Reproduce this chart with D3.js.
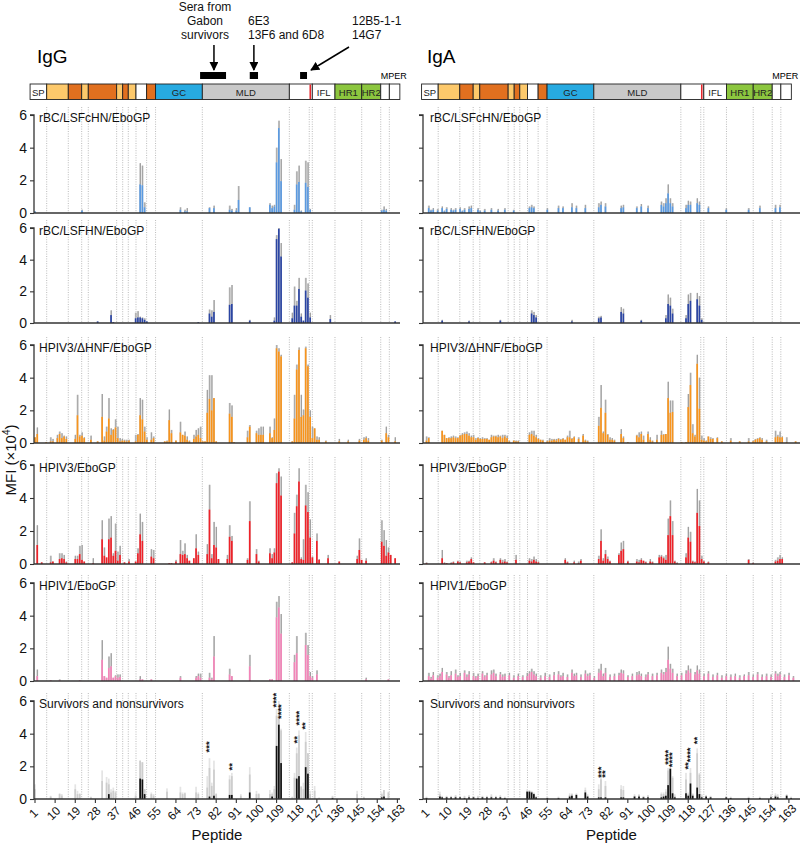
<!DOCTYPE html>
<html><head><meta charset="utf-8">
<script src="https://cdn.jsdelivr.net/npm/d3@7"></script>
<style>body{margin:0;background:#fff}svg{display:block;font-family:Arial,"Liberation Sans",Helvetica,sans-serif}</style>
</head><body><svg id="chart" width="800" height="847"></svg>
<script>
// ---------- DATA ----------
const peptideTicks = [1,10,19,28,37,46,55,64,73,82,91,100,109,118,127,136,145,154,163];
const yTicks = [0,2,4,6];
const isotypes = ["IgG","IgA"];
const panelTitles = ["rBC/LSFcHN/EboGP","rBC/LSFHN/EboGP","HPIV3/\u0394HNF/EboGP","HPIV3/EboGP","HPIV1/EboGP","Survivors and nonsurvivors"];
// GP domain map in peptide units: [type, from, to, label]
const domainSegments = [
  ["w",-1.2,6.23,"SP"],["y",6.23,15.88,""],["o",15.88,21.87,""],["y",21.87,24.82,""],["o",24.82,37.5,""],
  ["y",37.5,40.2,""],["o",40.2,42.7,""],["y",42.7,46.15,""],["w",46.15,50.9,""],["o",50.9,54.9,""],
  ["gc",54.9,75.8,"GC"],["mld",75.8,114.7,"MLD"],["w",114.7,124.96,""],["w",124.96,135.1,"IFL"],
  ["hr",135.1,147.05,"HR1"],["hr",147.05,155.55,"HR2"],["w",155.55,159.4,""],["w",159.4,164.1,""]
];
const fusionLoopMark = [123.7,124.4];
const mperStart = 155.55;
const domainBoundaries = [6.23,15.88,21.87,24.82,37.5,40.2,42.7,46.15,50.9,54.9,75.8,114.7,123.6,124.96,135.1,147.05,155.55,159.4];
const epitopeRanges = [[74.8,86.4],[97,100.7],[119.5,122.6]];

// bars: [peptide, mean, upper (mean+error)]
const igG_rBC_LSFcHN = [[1,0.1,0.1],[22,0.15,0.2],[48,1.75,3.05],[49,1.7,2.9],[50,0.35,0.65],[66,0.2,0.35],[68,0.1,0.2],[69,0.1,0.3],[79,0.3,0.35],[81,0.3,0.45],[88,0.2,0.45],[89,0.15,0.25],[91,0.15,0.3],[92,0.8,1.65],[97,0.35,0.35],[106,0.5,0.6],[107,0.3,0.45],[108,0.4,0.5],[109,3.1,4.0],[110,5.2,5.65],[111,1.95,3.3],[117,0.2,0.5],[118,1.75,2.55],[119,1.9,2.9],[120,0.1,0.15],[122,1.85,3.2],[123,1.6,3.1],[124,0.2,0.25],[156,0.15,0.2],[157,0.2,0.4],[158,0.15,0.25]];
const igG_rBC_LSFHN = [[29,0.1,0.1],[35,0.5,0.8],[36,0.05,0.05],[46,0.3,0.65],[47,0.35,0.75],[48,0.35,0.4],[49,0.3,0.35],[50,0.2,0.3],[51,0.1,0.1],[74,0.05,0.05],[79,0.6,0.85],[80,0.4,0.8],[81,0.7,1.45],[88,1.15,2.25],[89,1.2,2.4],[97,0.15,0.2],[108,0.15,0.35],[109,5.3,5.55],[110,5.95,6.0],[111,4.2,5.05],[116,0.3,0.65],[117,1.1,2.3],[118,1.1,1.4],[119,2.15,2.85],[120,0.4,0.6],[121,0.15,0.15],[122,2.05,2.85],[123,1.6,2.5],[124,0.35,0.65],[133,0.25,0.5],[162,0.1,0.1]];
const igG_HPIV3_dHNF = [[1,0.35,0.35],[2,0.55,0.95],[6,0.05,0.05],[8,0.1,0.35],[9,0.1,0.25],[11,0.3,0.5],[12,0.55,0.7],[13,0.3,0.6],[14,0.4,0.45],[15,0.25,0.4],[19,0.25,0.5],[20,1.7,2.95],[21,0.4,0.5],[22,0.45,0.65],[23,0.3,0.35],[26,0.2,0.45],[29,0.1,0.1],[31,1.6,3.0],[32,0.15,0.4],[33,0.7,1.0],[34,1.5,2.75],[35,0.5,0.9],[36,0.8,0.85],[37,0.95,1.45],[38,0.3,1.0],[39,0.1,0.3],[40,0.15,0.25],[41,0.15,0.2],[42,0.1,0.2],[43,0.15,0.2],[46,0.1,0.5],[47,0.5,0.55],[48,1.7,2.75],[49,1.45,2.65],[50,0.7,1.0],[51,0.2,0.35],[53,0.2,0.65],[54,0.3,0.4],[59,0.1,0.1],[60,0.1,0.15],[61,1.4,2.05],[62,0.6,0.8],[64,0.15,0.15],[66,0.65,1.3],[67,0.5,0.5],[68,0.45,0.7],[69,0.2,0.4],[70,0.1,0.15],[72,0.25,0.5],[73,0.4,0.8],[74,0.5,0.9],[75,0.3,1.0],[76,0.1,0.1],[77,0.1,0.1],[78,1.85,3.25],[79,2.7,4.15],[80,2.0,4.15],[81,2.75,2.75],[82,0.1,0.1],[88,1.8,2.45],[89,1.6,2.3],[90,0.05,0.05],[96,0.35,0.75],[97,1.0,1.1],[100,0.6,0.75],[101,0.5,0.9],[102,0.5,1.0],[103,0.5,1.0],[106,0.6,1.0],[107,0.3,0.35],[108,0.8,1.5],[109,5.8,6.0],[110,5.6,5.8],[111,5.3,5.4],[116,0.1,0.1],[117,1.5,2.95],[118,4.5,4.8],[119,5.7,5.85],[120,1.6,2.95],[121,1.7,2.05],[122,5.8,5.9],[123,4.7,4.8],[124,1.6,2.0],[125,0.3,1.0],[126,0.9,0.9],[127,0.2,0.4],[128,0.2,0.35],[131,0.1,0.15],[137,0.1,0.25],[141,0.1,0.2],[146,0.15,0.25],[148,0.2,0.35],[149,0.3,0.4],[150,0.15,0.3],[156,0.15,0.2],[158,0.6,1.0],[159,0.35,0.5],[162,0.1,0.35]];
const igG_HPIV3 = [[2,1.15,2.35],[4,0.1,0.1],[8,0.1,0.5],[9,0.15,0.15],[12,0.3,0.65],[13,0.35,0.65],[14,0.3,0.55],[15,0.1,0.15],[19,0.3,0.5],[20,0.3,0.5],[21,0.6,1.1],[22,0.25,1.15],[23,0.15,0.15],[27,0.05,0.35],[31,1.5,2.65],[32,0.5,1.0],[33,0.4,0.4],[34,1.5,2.75],[35,1.6,2.9],[36,0.5,0.65],[37,0.8,2.45],[38,0.2,0.75],[39,0.55,1.1],[41,0.1,0.1],[43,0.15,0.3],[46,0.15,0.15],[47,0.65,0.95],[48,1.8,3.05],[49,1.4,2.55],[53,0.45,0.9],[54,0.35,0.85],[61,0.05,0.05],[62,0.05,0.05],[64,0.15,0.25],[66,0.6,1.45],[67,0.55,0.8],[68,0.6,1.25],[69,0.35,0.55],[70,0.2,0.2],[72,0.35,0.35],[73,0.95,1.8],[74,0.55,0.75],[78,0.6,1.2],[79,3.3,4.8],[80,0.35,0.6],[81,1.15,2.55],[82,1.0,2.25],[83,0.3,0.3],[87,0.3,0.55],[88,1.65,2.35],[89,1.4,1.7],[96,0.25,0.35],[97,2.6,3.8],[100,0.6,0.9],[101,0.15,0.2],[106,0.65,0.95],[107,0.35,0.6],[108,0.7,0.95],[109,4.9,5.5],[110,5.6,5.8],[111,4.15,5.3],[116,0.1,0.1],[117,1.85,3.1],[118,3.5,4.2],[119,5.0,5.8],[120,0.3,0.4],[121,0.25,1.5],[122,3.55,4.8],[123,3.15,4.35],[124,1.6,2.7],[125,0.4,0.45],[127,1.4,1.85],[128,0.25,0.3],[132,0.35,0.55],[137,0.15,0.15],[145,0.3,0.5],[146,0.85,1.55],[147,0.25,0.25],[149,0.2,0.35],[156,1.35,2.65],[157,1.1,2.05],[158,0.5,1.45],[159,0.7,1.0],[160,0.55,0.55],[162,0.35,0.35]];
const igG_HPIV1 = [[2,0.3,0.7],[8,0.05,0.05],[12,0.05,0.1],[21,0.05,0.05],[31,1.3,2.5],[32,0.3,0.3],[33,0.2,0.2],[34,0.8,1.5],[35,0.9,1.7],[36,0.2,0.2],[37,0.3,0.35],[38,0.2,0.4],[39,0.25,0.4],[48,0.1,0.3],[49,0.1,0.1],[53,0.1,0.1],[66,0.2,0.3],[73,0.2,0.3],[74,0.3,0.45],[75,0.2,0.45],[79,0.2,0.5],[80,0.1,0.2],[81,1.5,2.75],[88,0.4,0.75],[89,0.3,0.3],[97,0.9,1.6],[106,0.1,0.1],[107,0.1,0.1],[109,3.9,4.85],[110,4.5,5.2],[111,2.9,4.1],[117,1.15,1.6],[118,1.7,2.75],[122,2.2,2.95],[123,1.6,2.2],[124,0.3,0.55],[125,0.2,0.3],[127,0.4,0.65],[149,0.1,0.2],[159,0.1,0.1]];
// survivors panel: [peptide, survivors (black), nonsurvivors (grey), nonsurvivors upper]
const igG_survivors = [[1,0,0.6,0.9],[8,0,0.15,0.2],[12,0,0.3,0.35],[13,0,0.2,0.3],[19,0,0.6,0.9],[20,0,0.3,0.5],[21,0,0.3,0.35],[26,0,0.1,0.15],[31,0,1.1,1.75],[33,0,1.0,1.35],[34,0.3,0.9,1.25],[35,0,0.4,0.6],[36,0,0.5,0.7],[37,0,0.4,0.5],[46,0,0.2,0.4],[48,1.25,2.35,2.35],[49,1.2,2.25,2.25],[50,0.3,0.6,0.6],[53,0,0.3,0.4],[54,0,0.2,0.3],[60,0,0.45,0.65],[66,0,0.4,0.75],[67,0,0.3,0.4],[68,0,0.35,0.4],[73,0,0.4,0.75],[74,0,0.3,0.4],[78,0,0.7,1.4],[79,0.15,1.9,2.5],[80,0,0.8,1.0],[81,0.2,1.8,2.35],[82,0,0.3,0.35],[88,0.25,1.2,1.45],[89,0.25,1.4,1.6],[93,0,0.2,0.3],[97,0.4,1.5,1.95],[100,0,0.3,0.5],[101,0,0.3,0.35],[106,0,0.3,0.55],[107,0.15,0.3,0.4],[108,0,0.6,0.8],[109,3.25,5.1,5.5],[110,4.55,5.6,6.0],[111,2.2,4.2,4.3],[116,0,0.1,0.15],[117,0,1.3,1.6],[118,1.25,2.8,3.15],[119,1.4,3.9,4.2],[120,0,0.75,0.8],[121,0,0.6,1.0],[122,1.95,3.5,4.1],[123,1.55,2.8,2.8],[124,0,0.3,0.5],[126,0,0.5,0.8],[128,0,0.05,0.1],[134,0.05,0.15,0.2],[145,0,0.3,0.5],[148,0,0.1,0.15],[156,0.1,0.3,0.4],[157,0.15,0.55,0.55],[159,0,0.4,0.45]];
const igG_stars = [[79,"***",2.85],[89,"**",1.75],[109,"****",5.6],[111,"****",4.9],[118,"**",3.4],[119,"****",4.5],[122,"**",4.25]];

const igA_rBC_LSFcHN = [[2,0.3,0.45],[3,0.15,0.2],[4,0.2,0.3],[6,0.15,0.25],[8,0.3,0.4],[9,0.1,0.15],[10,0.25,0.35],[12,0.2,0.3],[13,0.15,0.2],[14,0.2,0.3],[16,0.25,0.35],[17,0.1,0.15],[18,0.2,0.3],[20,0.25,0.4],[21,0.3,0.45],[24,0.2,0.3],[25,0.1,0.15],[27,0.15,0.25],[30,0.2,0.3],[33,0.15,0.25],[36,0.2,0.3],[40,0.15,0.2],[47,0.3,0.4],[48,0.35,0.5],[49,0.3,0.4],[55,0.2,0.3],[60,0.3,0.45],[62,0.3,0.4],[66,0.35,0.6],[68,0.3,0.45],[72,0.3,0.5],[78,0.35,0.6],[79,0.5,0.7],[81,0.4,0.6],[88,0.3,0.45],[89,0.35,0.5],[95,0.3,0.4],[97,0.4,0.55],[100,0.3,0.45],[106,0.5,0.7],[107,0.4,0.6],[108,0.6,0.9],[109,1.2,1.75],[110,0.6,0.9],[111,0.4,0.6],[117,0.3,0.5],[118,0.5,0.75],[119,0.5,0.7],[122,0.6,0.9],[123,0.5,0.7],[127,0.3,0.4],[135,0.2,0.3],[145,0.2,0.3],[150,0.3,0.45],[157,0.3,0.5],[159,0.35,0.5]];
const igA_rBC_LSFHN = [[8,0.15,0.2],[20,0.1,0.15],[34,0.15,0.2],[48,0.6,0.8],[49,0.5,0.7],[50,0.35,0.5],[66,0.1,0.2],[78,0.3,0.4],[79,0.35,0.45],[88,0.7,1.0],[89,0.6,0.9],[97,0.15,0.2],[108,0.3,0.5],[109,1.2,1.8],[110,1.1,1.6],[111,0.6,0.9],[117,0.3,0.5],[118,1.2,1.8],[119,1.4,1.9],[122,1.5,1.9],[123,1.1,1.7],[124,0.2,0.3]];
const igA_HPIV3_dHNF = [[1,0.15,0.4],[2,0.3,0.35],[8,0.75,0.75],[9,0.5,0.5],[10,0.3,0.3],[11,0.3,0.35],[12,0.3,0.4],[13,0.35,0.45],[14,0.3,0.4],[15,0.3,0.35],[16,0.45,0.5],[17,0.5,0.6],[18,0.55,0.65],[19,0.55,0.7],[20,0.45,0.6],[21,0.35,0.45],[22,0.35,0.5],[23,0.2,0.3],[24,0.3,0.35],[25,0.25,0.3],[26,0.25,0.35],[27,0.25,0.3],[28,0.25,0.3],[29,0.2,0.2],[30,0.35,0.5],[31,0.4,0.45],[32,0.4,0.45],[33,0.35,0.5],[34,0.4,0.45],[35,0.3,0.5],[36,0.4,0.5],[37,0.3,0.45],[38,0.1,0.15],[40,0.15,0.15],[41,0.1,0.15],[42,0.1,0.15],[47,0.5,0.65],[48,0.55,0.75],[49,0.45,0.75],[50,0.35,0.5],[51,0.25,0.3],[52,0.2,0.2],[53,0.15,0.2],[55,0.1,0.15],[56,0.15,0.3],[57,0.15,0.25],[58,0.2,0.25],[59,0.15,0.25],[60,0.25,0.3],[61,0.2,0.25],[62,0.25,0.3],[63,0.2,0.2],[64,0.35,0.45],[65,0.35,0.75],[66,0.25,0.3],[67,0.35,0.4],[69,0.25,0.35],[71,0.45,0.55],[72,0.15,0.2],[73,0.1,0.15],[78,1.05,1.6],[79,2.15,3.55],[80,0.6,0.7],[81,1.85,2.65],[82,0.5,0.55],[83,0.2,0.35],[84,0.2,0.3],[85,0.15,0.2],[88,0.55,0.85],[89,0.3,0.4],[91,0.05,0.05],[95,0.45,0.5],[96,0.35,0.65],[97,0.55,0.7],[98,0.2,0.45],[100,0.55,0.7],[101,0.2,0.35],[102,0.1,0.15],[104,0.2,0.5],[106,0.5,0.75],[107,0.5,0.55],[108,0.55,0.55],[109,2.75,3.75],[110,1.85,2.6],[111,1.9,2.6],[115,0.05,0.05],[117,0.05,0.05],[118,2.2,3.0],[119,3.55,4.3],[120,0.6,1.15],[121,0.4,0.5],[122,4.85,5.4],[123,2.1,4.0],[124,0.2,0.45],[125,0.15,0.3],[126,0.1,0.15],[127,0.4,0.4],[128,0.25,0.35],[129,0.25,0.3],[131,0.3,0.35],[133,0.1,0.1],[137,0.15,0.3],[141,0.1,0.1],[145,0.1,0.3],[147,0.1,0.15],[148,0.2,0.25],[149,0.25,0.3],[150,0.3,0.35],[151,0.2,0.3],[153,0.1,0.2],[157,0.35,0.75],[158,0.4,0.5],[159,0.35,0.7],[160,0.35,0.4],[162,0.05,0.35],[166,0.1,0.1]];
const igA_HPIV3 = [[1,0.05,0.1],[8,0.35,0.85],[9,0.05,0.1],[10,0.05,0.05],[12,0.05,0.1],[13,0.1,0.15],[15,0.15,0.2],[16,0.1,0.15],[19,0.1,0.2],[20,0.15,0.2],[21,0.3,0.4],[22,0.1,0.1],[27,0.1,0.1],[30,0.1,0.15],[31,0.2,0.35],[32,0.1,0.15],[34,0.25,0.35],[35,0.1,0.25],[36,0.15,0.3],[37,0.1,0.15],[41,0.25,0.55],[47,0.2,0.35],[48,0.15,0.3],[49,0.25,0.45],[50,0.15,0.3],[51,0.1,0.15],[63,0.25,0.35],[64,0.1,0.15],[67,0.1,0.2],[69,0.05,0.15],[70,0.2,0.3],[78,0.3,0.5],[79,1.4,2.1],[80,0.2,0.35],[81,0.6,0.85],[82,0.3,0.45],[83,0.15,0.2],[87,0.55,0.65],[88,0.8,1.3],[89,0.9,1.4],[91,0.15,0.2],[95,0.15,0.3],[96,0.1,0.25],[97,0.25,0.35],[98,0.2,0.2],[99,0.1,0.15],[101,0.15,0.3],[102,0.1,0.15],[105,0.4,0.55],[106,0.45,0.55],[107,0.35,0.45],[108,0.25,0.55],[109,1.75,2.75],[110,2.9,3.85],[111,1.75,2.6],[112,0.15,0.2],[113,0.05,0.1],[117,0.4,0.65],[118,1.6,2.25],[119,1.35,1.95],[120,0.15,0.2],[121,0.1,0.15],[122,3.1,4.55],[123,2.3,3.85],[124,0.3,0.5],[125,0.15,0.2],[127,0.1,0.15],[145,0.25,0.3],[147,0.05,0.1],[157,0.15,0.25],[158,0.2,0.4],[159,0.3,0.55],[160,0.3,0.4]];
const igA_HPIV1 = [[2,0.3,0.5],[3,0.15,0.25],[4,0.35,0.55],[6,0.2,0.35],[7,0.3,0.45],[8,0.55,0.8],[10,0.4,0.55],[11,0.2,0.3],[12,0.35,0.6],[14,0.45,0.7],[15,0.25,0.35],[16,0.3,0.5],[18,0.5,0.65],[19,0.25,0.4],[20,0.4,0.6],[22,0.3,0.5],[23,0.2,0.3],[24,0.3,0.45],[26,0.45,0.6],[27,0.25,0.35],[28,0.35,0.5],[30,0.4,0.65],[31,0.5,0.7],[32,0.3,0.45],[34,0.4,0.55],[35,0.25,0.4],[36,0.3,0.45],[38,0.35,0.5],[40,0.2,0.35],[42,0.3,0.45],[44,0.25,0.35],[46,0.3,0.5],[47,0.45,0.6],[48,0.55,0.75],[49,0.4,0.6],[50,0.3,0.45],[52,0.2,0.35],[54,0.3,0.5],[56,0.25,0.4],[58,0.35,0.55],[60,0.4,0.6],[61,0.25,0.35],[62,0.3,0.5],[64,0.25,0.4],[66,0.5,0.7],[67,0.3,0.45],[68,0.35,0.5],[70,0.25,0.4],[72,0.45,0.65],[73,0.3,0.45],[74,0.35,0.5],[76,0.2,0.3],[78,0.5,0.75],[79,0.65,1.05],[80,0.3,0.45],[81,0.5,0.8],[83,0.25,0.4],[85,0.3,0.45],[87,0.35,0.5],[88,0.5,0.7],[89,0.45,0.65],[91,0.25,0.35],[93,0.3,0.45],[95,0.35,0.55],[96,0.4,0.6],[97,0.3,0.45],[99,0.25,0.4],[100,0.4,0.55],[102,0.3,0.45],[104,0.35,0.5],[106,0.5,0.7],[107,0.4,0.55],[108,0.55,0.8],[109,1.3,2.1],[110,0.75,1.05],[111,0.5,0.75],[113,0.3,0.45],[115,0.35,0.5],[117,0.45,0.65],[118,0.65,0.95],[119,0.5,0.75],[121,0.4,0.55],[122,0.65,0.95],[123,0.45,0.7],[125,0.3,0.45],[127,0.45,0.6],[129,0.25,0.4],[131,0.35,0.5],[133,0.2,0.35],[135,0.3,0.45],[137,0.25,0.4],[139,0.3,0.45],[141,0.2,0.35],[143,0.3,0.4],[145,0.35,0.55],[147,0.25,0.4],[149,0.4,0.55],[151,0.25,0.4],[153,0.3,0.45],[155,0.25,0.4],[157,0.45,0.6],[158,0.3,0.45],[159,0.4,0.55],[161,0.25,0.4],[163,0.35,0.5],[165,0.2,0.3]];
const igA_survivors = [[1,0.05,0.1,0.15],[7,0.15,0.3,0.45],[8,0.1,0.15,0.2],[10,0.1,0.15,0.2],[12,0.1,0.15,0.2],[14,0.1,0.2,0.25],[16,0.1,0.15,0.2],[18,0.05,0.15,0.2],[20,0.1,0.2,0.25],[22,0.1,0.15,0.2],[24,0.05,0.15,0.2],[26,0.1,0.15,0.2],[28,0.1,0.15,0.2],[30,0.1,0.2,0.3],[32,0.1,0.15,0.2],[34,0.1,0.15,0.25],[36,0.05,0.1,0.15],[46,0.45,0.5,0.6],[47,0.45,0.5,0.55],[48,0.4,0.45,0.5],[49,0.3,0.35,0.4],[50,0.1,0.15,0.2],[55,0.05,0.1,0.15],[60,0.05,0.1,0.15],[65,0.15,0.25,0.35],[66,0.2,0.3,0.35],[68,0.25,0.3,0.35],[72,0.4,0.55,0.7],[73,0.15,0.2,0.3],[78,0.1,0.6,0.9],[79,0.1,1.2,1.5],[81,0.1,0.8,1.1],[88,0.1,0.6,0.85],[89,0.1,0.55,0.8],[94,0.15,0.2,0.3],[96,0.15,0.25,0.3],[98,0.1,0.15,0.2],[100,0.1,0.2,0.25],[106,0.1,0.3,0.4],[107,0.15,0.3,0.4],[108,0.2,0.45,0.6],[109,0.85,1.75,1.9],[110,1.85,1.9,2.0],[111,0.35,1.3,1.4],[112,0.1,0.2,0.3],[117,0.35,1.2,1.6],[118,0.2,0.3,0.4],[119,0.95,1.6,1.9],[120,0.2,0.3,0.35],[122,0.7,2.8,3.1],[123,0.3,1.5,1.6],[124,0.1,0.2,0.3],[126,0.15,0.2,0.25],[128,0.1,0.15,0.2],[135,0.1,0.15,0.2],[137,0.05,0.1,0.15],[145,0.05,0.1,0.15],[150,0.05,0.1,0.15],[155,0.1,0.2,0.3],[157,0.15,0.25,0.35],[158,0.1,0.2,0.3],[162,0.2,0.25,0.3],[164,0.05,0.1,0.15]];
const igA_stars = [[79,"***",1.3],[81,"**",1.3],[109,"****",2.1],[111,"****",1.95],[118,"**",1.8],[119,"****",2.25],[122,"**",3.35]];

// ---------- LAYOUT / STYLE ----------
const svg = d3.select("#chart");
const step = 2.237;
const cols = [
  {x0:35, axisX:34, xEnd:400, titleX:39,
   panels:[igG_rBC_LSFcHN, igG_rBC_LSFHN, igG_HPIV3_dHNF, igG_HPIV3, igG_HPIV1, igG_survivors], stars:igG_stars},
  {x0:426.5, axisX:423, xEnd:800, titleX:430,
   panels:[igA_rBC_LSFcHN, igA_rBC_LSFHN, igA_HPIV3_dHNF, igA_HPIV3, igA_HPIV1, igA_survivors], stars:igA_stars}
];
const rows = [{top:115,bottom:213},{top:228,bottom:323},{top:345,bottom:443},{top:465,bottom:564},{top:583,bottom:681},{top:701,bottom:799}];
const barColors = ["#5b9ae0","#2b45a3","#f7941d","#ee2229","#f384b8","#111"];
const segFill = {w:"#fff", y:"#fdc96b", o:"#e1701f", gc:"#27aae1", mld:"#c9c9c9", hr:"#8cc63f"};
const bw = 1.7;

cols.forEach((c, ci) => {
  const x = d3.scaleLinear().domain([1,163]).range([c.x0, c.x0 + 162*step]);
  const g = svg.append("g");

  g.append("text").attr("x", ci===0 ? 37 : 427).attr("y", 63).attr("font-size", 19).text(isotypes[ci]);

  // domain map
  const dm = g.append("g");
  dm.selectAll("rect.seg").data(domainSegments).join("rect").attr("class","seg")
    .attr("x", d => x(d[1])).attr("width", d => x(d[2]) - x(d[1]))
    .attr("y", 84).attr("height", 15.5)
    .attr("fill", d => segFill[d[0]]).attr("stroke", "#222").attr("stroke-width", 0.9);
  dm.append("rect").attr("x", x(fusionLoopMark[0])).attr("width", x(fusionLoopMark[1]) - x(fusionLoopMark[0]))
    .attr("y", 84.5).attr("height", 14.5).attr("fill", "#e8262b");
  dm.selectAll("text.seg").data(domainSegments.filter(d => d[3])).join("text").attr("class","seg")
    .attr("x", d => (x(d[1]) + x(d[2]))/2).attr("y", 95.5).attr("text-anchor","middle")
    .attr("font-size", 9.5).attr("fill","#222").text(d => d[3]);
  dm.append("text").attr("x", x(mperStart)).attr("y", 78.5).attr("font-size", 9).text("MPER");

  rows.forEach((r, ri) => {
    const y = d3.scaleLinear().domain([0,6]).range([r.bottom, r.top]);
    const pg = g.append("g");
    pg.selectAll("line.dot").data(domainBoundaries).join("line").attr("class","dot")
      .attr("x1", d => x(d)).attr("x2", d => x(d)).attr("y1", r.top - 8).attr("y2", r.bottom)
      .attr("stroke", "#9d9d9d").attr("stroke-width", 0.7).attr("stroke-dasharray", "1,1.4");

    const data = c.panels[ri];
    if (ri < 5) {
      pg.selectAll("rect.err").data(data).join("rect").attr("class","err")
        .attr("x", d => x(d[0]) - bw/2).attr("width", bw)
        .attr("y", d => y(d[2])).attr("height", d => Math.max(0, y(0) - y(d[2])))
        .attr("fill", "#c8c8c8");
      pg.selectAll("line.err").data(data.filter(d => d[2] > d[1])).join("line").attr("class","err")
        .attr("x1", d => x(d[0]) + 0.3).attr("x2", d => x(d[0]) + 0.3)
        .attr("y1", d => y(d[2])).attr("y2", d => y(d[1]))
        .attr("stroke", "#8e8e8e").attr("stroke-width", 0.7);
      pg.selectAll("rect.bar").data(data).join("rect").attr("class","bar")
        .attr("x", d => x(d[0]) - bw/2).attr("width", bw)
        .attr("y", d => y(d[1])).attr("height", d => y(0) - y(d[1]))
        .attr("fill", barColors[ri]);
    } else {
      pg.selectAll("rect.gt").data(data).join("rect").attr("class","gt")
        .attr("x", d => x(d[0]) - bw/2).attr("width", bw)
        .attr("y", d => y(d[3])).attr("height", d => y(0) - y(d[3]))
        .attr("fill", "#e4e4e4");
      pg.selectAll("rect.gm").data(data).join("rect").attr("class","gm")
        .attr("x", d => x(d[0]) - bw/2).attr("width", bw)
        .attr("y", d => y(d[2])).attr("height", d => y(0) - y(d[2]))
        .attr("fill", "#cdcdcd");
      pg.selectAll("rect.bk").data(data.filter(d => d[1] > 0)).join("rect").attr("class","bk")
        .attr("x", d => x(d[0]) - bw/2).attr("width", bw)
        .attr("y", d => y(d[1])).attr("height", d => y(0) - y(d[1]))
        .attr("fill", "#111");
      pg.selectAll("text.star").data(c.stars).join("text").attr("class","star")
        .attr("transform", d => `translate(${x(d[0]) + 2.8},${y(d[2])}) rotate(-90)`)
        .attr("font-size", 9.5).attr("font-weight","bold").attr("fill","#111").text(d => d[1]);
    }

    const yAxis = d3.axisLeft(y).tickValues(yTicks).tickSize(4).tickFormat(ci === 0 ? d3.format("d") : "");
    const ya = pg.append("g").attr("transform", `translate(${c.axisX},0)`).call(yAxis);
    ya.select(".domain").attr("stroke","#333").attr("stroke-width",1.3).attr("d", `M-4,${y(6)}H0V${y(0)}`);
    ya.selectAll(".tick line").attr("stroke","#333").attr("stroke-width",1.1);
    ya.selectAll(".tick text").attr("font-size", 14).attr("fill","#111").attr("x",-7).style("font-family","Arial,'Liberation Sans',sans-serif");

    pg.append("line").attr("x1", c.axisX).attr("x2", c.xEnd).attr("y1", y(0)).attr("y2", y(0))
      .attr("stroke", "#333").attr("stroke-width", 1.3);

    pg.append("text").attr("x", c.titleX).attr("y", r.top + 7).attr("font-size", 12).attr("fill","#111").text(panelTitles[ri]);

    if (ri === 5) {
      pg.selectAll("line.xt").data(peptideTicks).join("line").attr("class","xt")
        .attr("x1", d => x(d)).attr("x2", d => x(d)).attr("y1", y(0)).attr("y2", y(0) + 4)
        .attr("stroke","#333").attr("stroke-width",1.1);
      pg.selectAll("text.xt").data(peptideTicks).join("text").attr("class","xt")
        .attr("transform", d => `translate(${x(d) - 1},${y(0) + 15}) rotate(-45)`)
        .attr("text-anchor","middle").attr("dominant-baseline","middle")
        .attr("font-size", 12).attr("fill","#111").text(d => d);
      pg.append("text").attr("x", (c.axisX + c.xEnd)/2).attr("y", 840).attr("text-anchor","middle")
        .attr("font-size", 15).attr("fill","#111").text("Peptide");
    }
  });

  if (ci === 0) {
    const ann = g.append("g");
    ann.selectAll("rect.ep").data(epitopeRanges).join("rect").attr("class","ep")
      .attr("x", d => x(d[0])).attr("width", d => x(d[1]) - x(d[0])).attr("y", 72).attr("height", 7).attr("fill","#000");
  }
});

// annotations above IgG map
const defs = svg.append("defs");
defs.append("marker").attr("id","ah").attr("viewBox","0 0 10 10").attr("refX",9).attr("refY",5)
  .attr("markerWidth",6).attr("markerHeight",6).attr("orient","auto")
  .append("path").attr("d","M0,0L10,5L0,10z").attr("fill","#000");
const xL = d3.scaleLinear().domain([1,163]).range([35, 35 + 162*step]);
const arrowG = svg.append("g");
const epMid = epitopeRanges.map(d => (d[0] + d[1]) / 2);
arrowG.append("line").attr("x1", xL(81)).attr("x2", xL(81)).attr("y1", 45).attr("y2", 70)
  .attr("stroke","#000").attr("stroke-width",1.5).attr("marker-end","url(#ah)");
arrowG.append("line").attr("x1", xL(epMid[1])).attr("x2", xL(epMid[1])).attr("y1", 45).attr("y2", 70)
  .attr("stroke","#000").attr("stroke-width",1.5).attr("marker-end","url(#ah)");
arrowG.append("line").attr("x1", 349).attr("x2", 311).attr("y1", 47).attr("y2", 70)
  .attr("stroke","#000").attr("stroke-width",1.5).attr("marker-end","url(#ah)");
const annT = svg.append("g").attr("font-size", 12).attr("fill","#111");
[["Sera from",10.5],["Gabon",24.5],["survivors",38.5]].forEach(t =>
  annT.append("text").attr("x", 205).attr("y", t[1]).attr("text-anchor","middle").text(t[0]));
annT.append("text").attr("x", 248).attr("y", 24.5).text("6E3");
annT.append("text").attr("x", 248).attr("y", 38.5).text("13F6 and 6D8");
annT.append("text").attr("x", 352).attr("y", 24.5).text("12B5-1-1");
annT.append("text").attr("x", 352).attr("y", 38.5).text("14G7");

const yl = svg.append("text").attr("transform","translate(16,460) rotate(-90)").attr("text-anchor","middle")
  .attr("font-size", 15).attr("fill","#111");
yl.append("tspan").text("MFI (\u00d710");
yl.append("tspan").attr("font-size", 10).attr("dy", -6).text("4");
yl.append("tspan").attr("dy", 6).text(")");
</script></body></html>
